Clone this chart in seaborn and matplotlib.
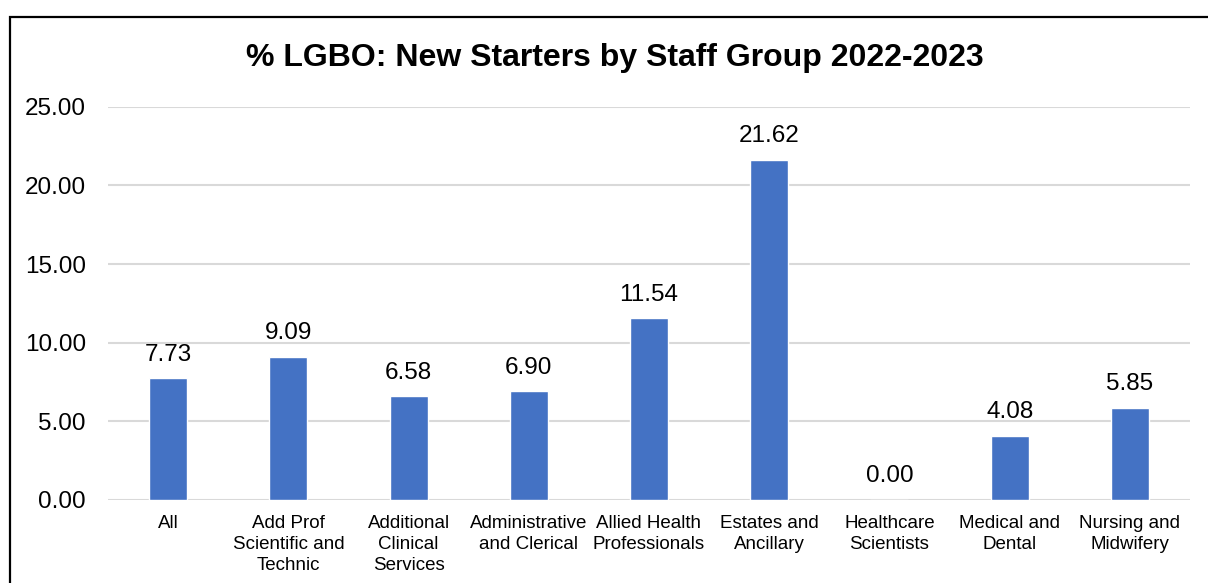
import matplotlib
matplotlib.use("Agg")
import matplotlib.pyplot as plt
import seaborn as sns
import pandas as pd
from matplotlib.patches import Rectangle

# Staff groups and share of new starters identifying as LGBO (%)
groups = [
    "All",
    "Add Prof\nScientific and\nTechnic",
    "Additional\nClinical\nServices",
    "Administrative\nand Clerical",
    "Allied Health\nProfessionals",
    "Estates and\nAncillary",
    "Healthcare\nScientists",
    "Medical and\nDental",
    "Nursing and\nMidwifery",
]
values = [7.73, 9.09, 6.58, 6.90, 11.54, 21.62, 0.00, 4.08, 5.85]
y_ticks = [0, 5, 10, 15, 20, 25]

df = pd.DataFrame({"group": groups, "pct": values})

sns.set_theme(style="white")
plt.rcParams["font.family"] = ["Liberation Sans", "DejaVu Sans"]

fig = plt.figure(figsize=(12.08, 5.83), dpi=100)
ax = fig.add_axes([108 / 1208, 1 - 500 / 583, (1190 - 108) / 1208, (500 - 106.7) / 583])

sns.barplot(data=df, x="group", y="pct", color="#4472C4", saturation=1,
            width=0.317, ax=ax)

ax.set_ylim(0, 25)
ax.set_xlim(-0.5, len(groups) - 0.5)
ax.set_yticks(y_ticks)
ax.set_yticklabels([f"{v:.2f}" for v in y_ticks], fontsize=17.5, color="#000000")
ax.tick_params(axis="y", length=0, pad=16)
ax.tick_params(axis="x", length=0, pad=10.5, labelsize=13.5, labelcolor="#000000")
for lbl in ax.get_xticklabels():
    lbl.set_linespacing(1.32)
ax.set_xlabel("")
ax.set_ylabel("")
ax.yaxis.grid(True, color="#D9D9D9", linewidth=1.5)
ax.set_axisbelow(True)
for s in ax.spines.values():
    s.set_visible(False)

ax.bar_label(ax.containers[0], labels=[f"{v:.2f}" for v in values],
             padding=9, fontsize=17.5, color="#000000")

fig.text(615 / 1208, 1 - 58 / 583, "% LGBO: New Starters by Staff Group 2022-2023",
         ha="center", va="center", fontsize=23, fontweight="bold", color="#000000")

# Chart border
fig.patches.append(Rectangle((10 / 1208, -0.2), 1.2, 1 - 17 / 583 + 0.2,
                             transform=fig.transFigure, fill=False,
                             edgecolor="#000000", linewidth=1.6))

fig.savefig("out.png", dpi=100, facecolor="white")
